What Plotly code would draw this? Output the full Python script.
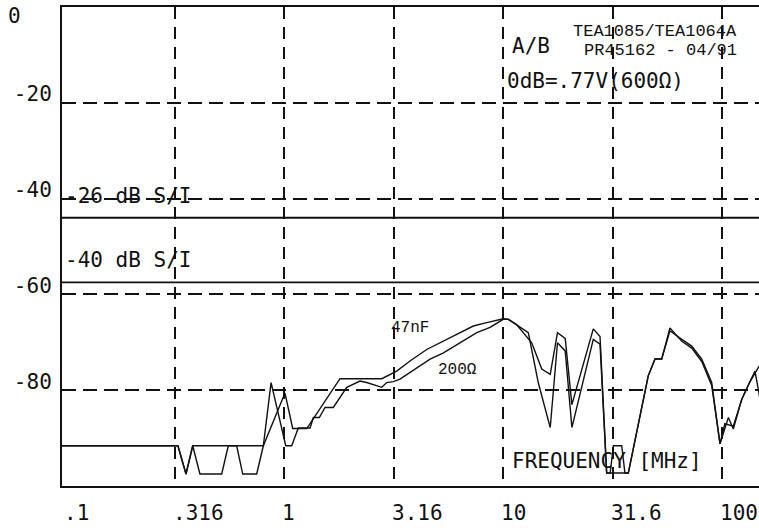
import numpy as np
import plotly.graph_objects as go

# ---------------- data ----------------
freq_47nF = [0.095, 0.326, 0.355, 0.381, 0.801, 1.006, 1.091, 1.265, 1.795, 2.785,
             3.26, 3.75, 4.47, 5.32, 6.13, 7.30, 8.41, 10.0, 10.55, 11.5,
             13.5, 15.0, 16.4, 17.7, 19.2, 20.6, 25.8, 27.7, 29.7, 37.3,
             46.0, 49.4, 53.0, 57.8, 65.5, 72.7, 80.8, 89.7, 97.9, 106.9,
             112.6, 123.0, 141.5, 152.0]
db_47nF = [-91.6, -91.6, -97.5, -91.6, -91.6, -80.6, -88.0, -88.0, -77.6, -77.6,
           -76.0, -73.9, -71.5, -69.7, -68.3, -66.6, -65.9, -65.1, -65.2, -66.3,
           -70.1, -75.6, -76.7, -68.0, -69.2, -83.0, -67.2, -68.8, -97.3, -97.3,
           -77.0, -73.5, -73.5, -67.6, -69.4, -70.8, -73.5, -78.4, -91.2, -85.7,
           -88.1, -81.9, -76.0, -84.0]

freq_200 = [0.095, 0.326, 0.355, 0.381, 0.411, 0.517, 0.554, 0.605, 0.645, 0.747,
            0.801, 0.869, 1.014, 1.080, 1.157, 1.31, 1.356, 1.444, 1.533, 1.673,
            1.927, 2.216, 2.377, 2.549, 2.785, 2.935, 3.146, 3.375, 4.025, 4.63,
            5.33, 6.57, 7.57, 8.71, 10.0, 10.55, 11.5, 13.02, 14.46, 16.4,
            17.7, 19.2, 20.6, 25.8, 27.7, 29.7, 30.8, 31.9, 34.8, 36.0,
            37.3, 46.0, 49.4, 53.0, 57.8, 65.5, 72.7, 80.8, 89.7, 97.9,
            103.0, 112.6, 123.0, 133.5, 152.0]
db_200 = [-91.6, -91.6, -97.5, -91.6, -97.5, -97.5, -91.6, -91.6, -97.5, -97.5,
          -91.6, -78.4, -91.6, -91.6, -87.9, -87.9, -85.7, -85.7, -83.6, -83.6,
          -79.4, -78.1, -78.4, -78.8, -79.4, -78.4, -78.2, -77.7, -75.3, -73.5,
          -72.2, -69.7, -68.0, -66.9, -65.2, -65.2, -66.3, -68.0, -78.4, -87.8,
          -70.1, -71.8, -87.8, -69.4, -70.4, -97.3, -97.3, -91.6, -91.6, -97.3,
          -97.3, -77.0, -73.5, -73.5, -67.0, -69.8, -71.2, -74.0, -79.0, -91.2,
          -87.0, -87.5, -82.0, -78.4, -74.0]

si_levels = [-44.0, -57.5]
si_labels = ["-26 dB S/I", "-40 dB S/I"]
si_label_db = [-39.4, -52.9]

x_tickvals = [0.1, 0.316, 1, 3.16, 10, 31.6, 100]
x_ticktext = [".1", ".316", "1", "3.16", "10", "31.6", "100"]
y_tickvals = [0, -20, -40, -60, -80]
y_ticktext = ["0", "-20", "-40", "-60", "-80"]

curve_labels = ["47nF", "200Ω"]
curve_label_freq = [3.75, 6.21]
curve_label_db = [-67.1, -75.8]

PLOT = "DejaVu Sans Mono"
TYPE = "Liberation Mono"
INK = "#111111"
FS = 21

fig = go.Figure()
fig.add_trace(go.Scatter(x=freq_47nF, y=db_47nF, mode="lines",
                         line=dict(color=INK, width=1.4), name="47nF"))
fig.add_trace(go.Scatter(x=freq_200, y=db_200, mode="lines",
                         line=dict(color=INK, width=1.4), name="200Ω"))

for lvl in si_levels:
    fig.add_shape(type="line", xref="x domain", yref="y", x0=0, x1=1, y0=lvl, y1=lvl,
                  line=dict(color=INK, width=1.8))

ann = []
for t, yv in zip(si_labels, si_label_db):
    ann.append(dict(text=t, xref="paper", yref="y", x=0.002, y=yv, xanchor="left",
                    yanchor="middle", showarrow=False, font=dict(family=PLOT, size=FS, color=INK)))
for t, xv in zip(x_ticktext, x_tickvals):
    ann.append(dict(text=t, xref="x", yref="paper", x=np.log10(xv), y=-0.056, xanchor="left",
                    xshift=-4, yanchor="middle", showarrow=False,
                    font=dict(family=PLOT, size=FS, color=INK)))
for t, fv, dv in zip(curve_labels, curve_label_freq, curve_label_db):
    ann.append(dict(text=t, xref="x", yref="y", x=np.log10(fv), y=dv, xanchor="center",
                    yanchor="middle", showarrow=False, font=dict(family=TYPE, size=16, color=INK)))

ann += [
    dict(text="TEA1085/TEA1064A", xref="paper", yref="paper", x=0.851, y=0.948,
         xanchor="center", yanchor="middle", showarrow=False,
         font=dict(family=TYPE, size=17, color=INK)),
    dict(text="PR45162 - 04/91", xref="paper", yref="paper", x=0.859, y=0.910,
         xanchor="center", yanchor="middle", showarrow=False,
         font=dict(family=TYPE, size=17, color=INK)),
    dict(text="A/B", xref="paper", yref="paper", x=0.643, y=0.919,
         xanchor="left", yanchor="middle", showarrow=False,
         font=dict(family=PLOT, size=FS, color=INK)),
    dict(text="0dB=.77V(600Ω)", xref="paper", yref="paper", x=0.636, y=0.846,
         xanchor="left", yanchor="middle", showarrow=False,
         font=dict(family=PLOT, size=FS, color=INK)),
    dict(text="FREQUENCY [MHz]", xref="paper", yref="paper", x=0.643, y=0.052,
         xanchor="left", yanchor="middle", showarrow=False,
         font=dict(family=PLOT, size=FS, color=INK)),
]

fig.update_layout(
    width=759, height=528,
    margin=dict(l=62, r=0, t=7, b=42, pad=0),
    paper_bgcolor="white", plot_bgcolor="white",
    showlegend=False,
    annotations=ann,
)
fig.update_xaxes(type="log", range=[-1.0165, 2.169],
                 tickvals=x_tickvals[1:], showticklabels=False, ticks="",
                 showgrid=True, gridcolor=INK, gridwidth=1.5, griddash="12px,8px",
                 showline=True, linecolor=INK, linewidth=2, mirror=True,
                 zeroline=False, automargin=False)
fig.update_yaxes(range=[-100, 0], tickvals=y_tickvals[1:], ticktext=y_ticktext[1:],
                 ticks="", ticklabelstandoff=4, ticklabelshift=-9,
                 tickfont=dict(family=PLOT, size=FS, color=INK),
                 showgrid=True, gridcolor=INK, gridwidth=1.5, griddash="14px,7px",
                 showline=True, linecolor=INK, linewidth=2, mirror=False,
                 zeroline=False, automargin=False)
fig.add_annotation(text=y_ticktext[0], xref="paper", yref="y", x=0, y=y_tickvals[0],
                   xanchor="left", yanchor="middle", xshift=-56, yshift=-9, showarrow=False,
                   font=dict(family=PLOT, size=FS, color=INK))

fig.write_html("out.html", config={"displayModeBar": False},
               post_script="document.body.style.margin='0';document.body.style.padding='0';")
